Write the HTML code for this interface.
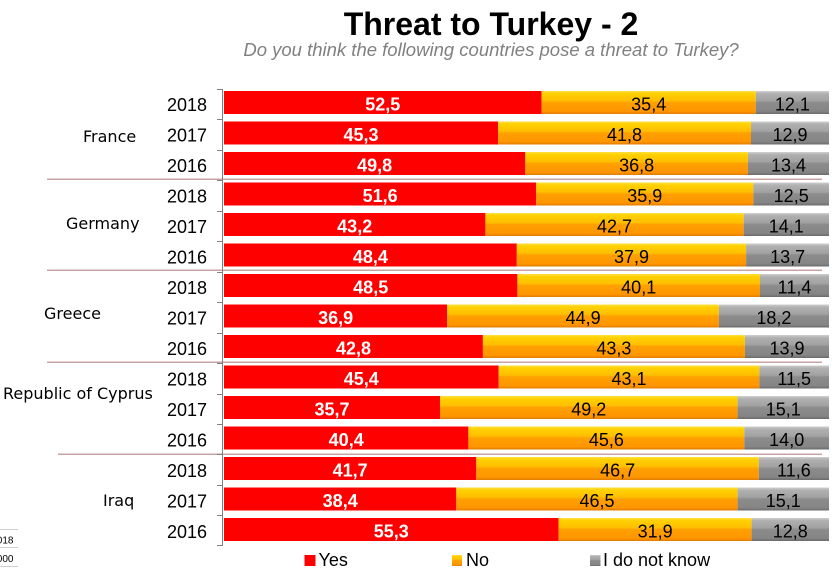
<!DOCTYPE html>
<html>
<head>
<meta charset="utf-8">
<style>
html,body{margin:0;padding:0;background:#fff;}
svg{display:block;}
text{font-family:"Liberation Sans",Arial,sans-serif;}
.yr{font-size:18px;fill:#000;text-anchor:end;}
.vr{font-size:18px;font-weight:bold;fill:#fff;text-anchor:middle;}
.vo{font-size:18px;fill:#000;text-anchor:middle;}
.ct{font-family:"DejaVu Sans",Verdana,sans-serif;font-size:16px;fill:#000;}
</style>
</head>
<body>
<svg width="834" height="578" viewBox="0 0 834 578" xmlns="http://www.w3.org/2000/svg">
<defs>
<linearGradient id="go" x1="0" y1="0" x2="0" y2="1">
<stop offset="0" stop-color="#ffe040"/>
<stop offset="0.12" stop-color="#ffd000"/>
<stop offset="0.42" stop-color="#ffbe00"/>
<stop offset="0.5" stop-color="#ffa000"/>
<stop offset="0.88" stop-color="#ff9600"/>
<stop offset="1" stop-color="#e07c00"/>
</linearGradient>
<linearGradient id="gg" x1="0" y1="0" x2="0" y2="1">
<stop offset="0" stop-color="#cfcfcf"/>
<stop offset="0.12" stop-color="#b0b0b0"/>
<stop offset="0.42" stop-color="#a2a2a2"/>
<stop offset="0.5" stop-color="#8c8c8c"/>
<stop offset="0.88" stop-color="#858585"/>
<stop offset="1" stop-color="#6a6a6a"/>
</linearGradient>
</defs>

<!-- title -->
<text x="491" y="35" text-anchor="middle" font-size="32" font-weight="bold" fill="#000">Threat to Turkey - 2</text>
<text x="491" y="56" text-anchor="middle" font-size="18.5" font-style="italic" fill="#808080">Do you think the following countries pose a threat to Turkey?</text>

<!-- separators -->
<rect x="47" y="178.5" width="775" height="1.5" fill="#c8a4a4"/>
<rect x="47" y="269.5" width="775" height="1.5" fill="#c8a4a4"/>
<rect x="47" y="361.5" width="775" height="1.5" fill="#c8a4a4"/>
<rect x="58" y="453.5" width="764" height="1.5" fill="#c8a4a4"/>

<!-- axis -->
<rect x="222" y="89" width="1" height="457" fill="#808080"/>
<g fill="#808080">
<rect x="217" y="89" width="5" height="1"/>
<rect x="217" y="119" width="5" height="1"/>
<rect x="217" y="150" width="5" height="1"/>
<rect x="217" y="180" width="5" height="1"/>
<rect x="217" y="211" width="5" height="1"/>
<rect x="217" y="241" width="5" height="1"/>
<rect x="217" y="272" width="5" height="1"/>
<rect x="217" y="302" width="5" height="1"/>
<rect x="217" y="333" width="5" height="1"/>
<rect x="217" y="363" width="5" height="1"/>
<rect x="217" y="394" width="5" height="1"/>
<rect x="217" y="424" width="5" height="1"/>
<rect x="217" y="454" width="5" height="1"/>
<rect x="217" y="485" width="5" height="1"/>
<rect x="217" y="515" width="5" height="1"/>
<rect x="217" y="545" width="5" height="1"/>
</g>

<!-- country labels -->
<text class="ct" x="83" y="142">France</text>
<text class="ct" x="66" y="229">Germany</text>
<text class="ct" x="44" y="319">Greece</text>
<text class="ct" x="3" y="399">Republic of Cyprus</text>
<text class="ct" x="103" y="506">Iraq</text>

<!-- rows -->
<g transform="translate(0,91)">
<text class="yr" x="207" y="20">2018</text>
<rect x="224" y="0" width="317.6" height="23" fill="#ff0000"/>
<rect x="541.6" y="0" width="214.2" height="23" fill="url(#go)"/>
<rect x="755.8" y="0" width="73.2" height="23" fill="url(#gg)"/>
<text class="vr" x="382.8" y="19.5">52,5</text>
<text class="vo" x="648.7" y="19.5">35,4</text>
<text class="vo" x="792.4" y="19.5">12,1</text>
</g>
<g transform="translate(0,121.5)">
<text class="yr" x="207" y="20">2017</text>
<rect x="224" y="0" width="274.1" height="23" fill="#ff0000"/>
<rect x="498.1" y="0" width="252.9" height="23" fill="url(#go)"/>
<rect x="751" y="0" width="78" height="23" fill="url(#gg)"/>
<text class="vr" x="361" y="19.5">45,3</text>
<text class="vo" x="624.5" y="19.5">41,8</text>
<text class="vo" x="790" y="19.5">12,9</text>
</g>
<g transform="translate(0,152)">
<text class="yr" x="207" y="20">2016</text>
<rect x="224" y="0" width="301.3" height="23" fill="#ff0000"/>
<rect x="525.3" y="0" width="222.6" height="23" fill="url(#go)"/>
<rect x="747.9" y="0" width="81.1" height="23" fill="url(#gg)"/>
<text class="vr" x="374.6" y="19.5">49,8</text>
<text class="vo" x="636.6" y="19.5">36,8</text>
<text class="vo" x="788.5" y="19.5">13,4</text>
</g>
<g transform="translate(0,182.5)">
<text class="yr" x="207" y="20">2018</text>
<rect x="224" y="0" width="312.2" height="23" fill="#ff0000"/>
<rect x="536.2" y="0" width="217.2" height="23" fill="url(#go)"/>
<rect x="753.4" y="0" width="75.6" height="23" fill="url(#gg)"/>
<text class="vr" x="380.1" y="19.5">51,6</text>
<text class="vo" x="644.8" y="19.5">35,9</text>
<text class="vo" x="791.2" y="19.5">12,5</text>
</g>
<g transform="translate(0,213)">
<text class="yr" x="207" y="20">2017</text>
<rect x="224" y="0" width="261.4" height="23" fill="#ff0000"/>
<rect x="485.4" y="0" width="258.3" height="23" fill="url(#go)"/>
<rect x="743.7" y="0" width="85.3" height="23" fill="url(#gg)"/>
<text class="vr" x="354.7" y="19.5">43,2</text>
<text class="vo" x="614.5" y="19.5">42,7</text>
<text class="vo" x="786.3" y="19.5">14,1</text>
</g>
<g transform="translate(0,243.5)">
<text class="yr" x="207" y="20">2016</text>
<rect x="224" y="0" width="292.8" height="23" fill="#ff0000"/>
<rect x="516.8" y="0" width="229.3" height="23" fill="url(#go)"/>
<rect x="746.1" y="0" width="82.9" height="23" fill="url(#gg)"/>
<text class="vr" x="370.4" y="19.5">48,4</text>
<text class="vo" x="631.5" y="19.5">37,9</text>
<text class="vo" x="787.6" y="19.5">13,7</text>
</g>
<g transform="translate(0,274)">
<text class="yr" x="207" y="20">2018</text>
<rect x="224" y="0" width="293.4" height="23" fill="#ff0000"/>
<rect x="517.4" y="0" width="242.6" height="23" fill="url(#go)"/>
<rect x="760" y="0" width="69" height="23" fill="url(#gg)"/>
<text class="vr" x="370.7" y="19.5">48,5</text>
<text class="vo" x="638.7" y="19.5">40,1</text>
<text class="vo" x="794.5" y="19.5">11,4</text>
</g>
<g transform="translate(0,304.5)">
<text class="yr" x="207" y="20">2017</text>
<rect x="224" y="0" width="223.2" height="23" fill="#ff0000"/>
<rect x="447.2" y="0" width="271.7" height="23" fill="url(#go)"/>
<rect x="718.9" y="0" width="110.1" height="23" fill="url(#gg)"/>
<text class="vr" x="335.6" y="19.5">36,9</text>
<text class="vo" x="583.1" y="19.5">44,9</text>
<text class="vo" x="773.9" y="19.5">18,2</text>
</g>
<g transform="translate(0,335)">
<text class="yr" x="207" y="20">2016</text>
<rect x="224" y="0" width="258.9" height="23" fill="#ff0000"/>
<rect x="482.9" y="0" width="262" height="23" fill="url(#go)"/>
<rect x="744.9" y="0" width="84.1" height="23" fill="url(#gg)"/>
<text class="vr" x="353.5" y="19.5">42,8</text>
<text class="vo" x="613.9" y="19.5">43,3</text>
<text class="vo" x="787" y="19.5">13,9</text>
</g>
<g transform="translate(0,365.5)">
<text class="yr" x="207" y="20">2018</text>
<rect x="224" y="0" width="274.7" height="23" fill="#ff0000"/>
<rect x="498.7" y="0" width="260.7" height="23" fill="url(#go)"/>
<rect x="759.4" y="0" width="69.6" height="23" fill="url(#gg)"/>
<text class="vr" x="361.3" y="19.5">45,4</text>
<text class="vo" x="629" y="19.5">43,1</text>
<text class="vo" x="794.2" y="19.5">11,5</text>
</g>
<g transform="translate(0,396)">
<text class="yr" x="207" y="20">2017</text>
<rect x="224" y="0" width="216" height="23" fill="#ff0000"/>
<rect x="440" y="0" width="297.6" height="23" fill="url(#go)"/>
<rect x="737.6" y="0" width="91.4" height="23" fill="url(#gg)"/>
<text class="vr" x="332" y="19.5">35,7</text>
<text class="vo" x="588.8" y="19.5">49,2</text>
<text class="vo" x="783.3" y="19.5">15,1</text>
</g>
<g transform="translate(0,426.5)">
<text class="yr" x="207" y="20">2016</text>
<rect x="224" y="0" width="244.4" height="23" fill="#ff0000"/>
<rect x="468.4" y="0" width="275.9" height="23" fill="url(#go)"/>
<rect x="744.3" y="0" width="84.7" height="23" fill="url(#gg)"/>
<text class="vr" x="346.2" y="19.5">40,4</text>
<text class="vo" x="606.4" y="19.5">45,6</text>
<text class="vo" x="786.7" y="19.5">14,0</text>
</g>
<g transform="translate(0,457)">
<text class="yr" x="207" y="20">2018</text>
<rect x="224" y="0" width="252.3" height="23" fill="#ff0000"/>
<rect x="476.3" y="0" width="282.5" height="23" fill="url(#go)"/>
<rect x="758.8" y="0" width="70.2" height="23" fill="url(#gg)"/>
<text class="vr" x="350.1" y="19.5">41,7</text>
<text class="vo" x="617.6" y="19.5">46,7</text>
<text class="vo" x="793.9" y="19.5">11,6</text>
</g>
<g transform="translate(0,487.5)">
<text class="yr" x="207" y="20">2017</text>
<rect x="224" y="0" width="232.3" height="23" fill="#ff0000"/>
<rect x="456.3" y="0" width="281.3" height="23" fill="url(#go)"/>
<rect x="737.6" y="0" width="91.4" height="23" fill="url(#gg)"/>
<text class="vr" x="340.2" y="19.5">38,4</text>
<text class="vo" x="597" y="19.5">46,5</text>
<text class="vo" x="783.3" y="19.5">15,1</text>
</g>
<g transform="translate(0,518)">
<text class="yr" x="207" y="20">2016</text>
<rect x="224" y="0" width="334.6" height="23" fill="#ff0000"/>
<rect x="558.6" y="0" width="193" height="23" fill="url(#go)"/>
<rect x="751.6" y="0" width="77.4" height="23" fill="url(#gg)"/>
<text class="vr" x="391.3" y="19.5">55,3</text>
<text class="vo" x="655.1" y="19.5">31,9</text>
<text class="vo" x="790.3" y="19.5">12,8</text>
</g>

<!-- legend -->
<rect x="304.5" y="555" width="11" height="11" fill="#ff0000"/>
<text x="318.5" y="566" font-size="18" fill="#000">Yes</text>
<rect x="452" y="555" width="10" height="11" fill="url(#go)"/>
<text x="466" y="566" font-size="18" fill="#000">No</text>
<rect x="590" y="555" width="10.5" height="11" fill="url(#gg)"/>
<text x="603" y="566" font-size="18" fill="#000">I do not know</text>

<!-- bottom-left artifacts -->
<rect x="0" y="529" width="18" height="1" fill="#d0d0d0"/>
<rect x="0" y="547" width="18" height="1" fill="#d0d0d0"/>
<rect x="0" y="566" width="18" height="1" fill="#d0d0d0"/>
<text x="13.5" y="543.5" font-size="10" text-anchor="end" fill="#000">2018</text>
<text x="13.5" y="562" font-size="10" text-anchor="end" fill="#000">1000</text>
</svg>
</body>
</html>
